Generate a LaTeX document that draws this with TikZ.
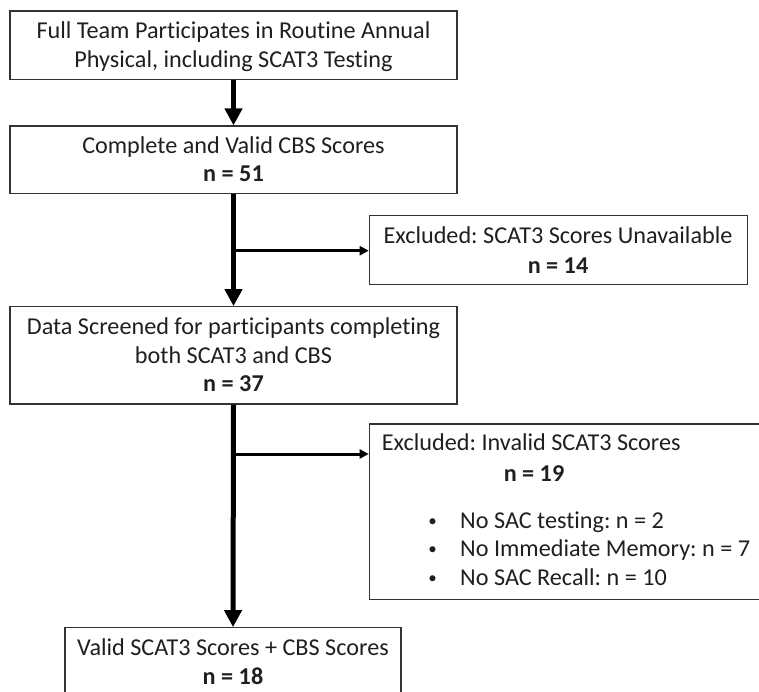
\documentclass[tikz,border=0pt]{standalone}
\usepackage{fontspec}
\setmainfont{Carlito}[Ligatures={NoCommon,NoContextual},Contextuals=NoAlternate]
\frenchspacing
\usetikzlibrary{arrows.meta}
% keep "t" and "i" as separate glyphs
\newcommand\nolig{\kern0pt\relax}
\begin{document}
\begin{tikzpicture}[x=1pt,y=-1pt,
  box/.style={draw=black!80, line width=1.2pt, inner sep=0pt},
  txt/.style={anchor=base, inner sep=0pt, font=\fontsize{24.2}{29}\selectfont, text=black!88},
  ltxt/.style={txt, anchor=base west},
  dotmark/.style={anchor=base, inner sep=0pt, font=\fontsize{17}{20}\selectfont, text=black!88},
  spine/.style={line width=5pt, -{Triangle[width=17pt,length=17pt]}},
  branch/.style={line width=3pt, -{Triangle[width=9pt,length=9pt]}}
]
\useasboundingbox (0,0) rectangle (759,692);

% boxes
\node[box, minimum width=447pt, minimum height=68.5pt] (b1) at (233.5,45.25) {};
\node[box, minimum width=447pt, minimum height=67.5pt] (b2) at (233.5,159.75) {};
\node[box, minimum width=378pt, minimum height=68.6pt] (e1) at (558.3,250) {};
\node[box, minimum width=447pt, minimum height=97.3pt] (b3) at (233.5,355.35) {};
\node[box, minimum width=420.7pt, minimum height=175.3pt] (e2) at (579.65,511.65) {};
\node[box, minimum width=336pt, minimum height=92.3pt] (b4) at (233,673.85) {};

% texts
\node[txt] (t1a) at (233.5,39) {Full Team Part\nolig icipates in Routine Annual};
\node[txt] (t1b) at (233.5,68) {Physical, including SCAT3 Test\nolig ing};
\node[txt] (t2a) at (233.5,153.3) {Complete and Valid CBS Scores};
\node[txt] (t2b) at (233.5,181.7) {\bfseries n = 51};
\node[txt] (te1a) at (558,243.3) {Excluded: SCAT3 Scores Unavailable};
\node[txt] (te1b) at (558,273) {\bfseries n = 14};
\node[txt] (t3a) at (233.5,334.7) {Data Screened for part\nolig icipants complet\nolig ing};
\node[txt] (t3b) at (233.5,363.2) {both SCAT3 and CBS};
\node[txt] (t3c) at (233.5,391.7) {\bfseries n = 37};
\node[ltxt] (te2a) at (381.7,450.7) {Excluded: Invalid SCAT3 Scores};
\node[txt] (te2b) at (534,481.7) {\bfseries n = 19};
\foreach \y/\s [count=\i] in {528.3/{No SAC test\nolig ing: n = 2},
                              556.7/{No Immediate Memory: n = 7},
                              585/{No SAC Recall: n = 10}} {
  \node[dotmark] (dot\i) at (432.7,\y-2) {\textbullet};
  \node[ltxt] (item\i) at (460,\y) {\s};
}
\node[txt] (t4a) at (233,655) {Valid SCAT3 Scores + CBS Scores};
\node[txt] (t4b) at (233,684) {\bfseries n = 18};

% connectors
\coordinate (j1) at (233.3,250.7);
\coordinate (j2) at (233.3,454);
\draw[spine] (b1.south) -- (b2.north);
\draw[spine] (b2.south) -- (b3.north);
\draw[spine] (b3.south) -- (b4.north);
\draw[branch] (j1) -- (j1 -| e1.west);
\draw[branch] (j2) -- (j2 -| e2.west);
\end{tikzpicture}
\end{document}
